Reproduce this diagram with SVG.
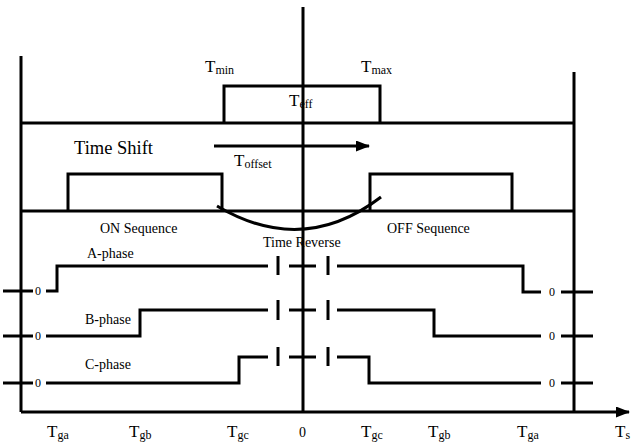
<svg xmlns="http://www.w3.org/2000/svg" width="637" height="443" viewBox="0 0 637 443" font-family="'Liberation Serif', 'Times New Roman', 'DejaVu Serif', serif">
<style>
.ln{fill:none;stroke:#000;stroke-width:3;stroke-linecap:butt;stroke-linejoin:miter}
text{font-family:'Liberation Serif','Times New Roman','DejaVu Serif',serif;fill:#000}
.big{font-size:17px}
.sub{font-size:12px}
.lbl{font-size:14px}
.z{font-size:12px}
</style>
<defs>
<marker id="ah2" markerWidth="14" markerHeight="11" refX="13" refY="5.5" orient="auto" markerUnits="userSpaceOnUse">
<path d="M0,0 L14,5.5 L0,11 Z" fill="#000"/>
</marker>
</defs>
<rect width="637" height="443" fill="#fff"/>
<g id="frame">
<line class="ln" x1="21" y1="56" x2="21" y2="412"/>
<line class="ln" x1="574" y1="72" x2="574" y2="412"/>
<line class="ln" x1="303" y1="7" x2="303" y2="412"/>
<line class="ln" x1="21" y1="123" x2="574" y2="123"/>
<line class="ln" x1="21" y1="211" x2="574" y2="211"/>
</g>
<g id="teff">
<polyline class="ln" points="224,123 224,86 380,86 380,123"/>
<text class="big" x="205" y="72">T<tspan class="sub" dy="2">min</tspan></text>
<text class="big" x="361" y="72">T<tspan class="sub" dy="2">max</tspan></text>
<text class="big" x="289" y="106">T<tspan class="sub" dy="2">eff</tspan></text>
</g>
<g id="timeshift">
<text x="74" y="154" font-size="18.5">Time Shift</text>
<text class="big" x="234" y="166">T<tspan class="sub" dy="2">offset</tspan></text>
</g>
<g id="on-box">
<polyline class="ln" points="68,211 68,174 222,174 222,211"/>
<text class="lbl" x="100" y="233">ON Sequence</text>
</g>
<g id="off-box">
<polyline class="ln" points="370,211 370,174 512,174 512,211"/>
<text class="lbl" x="387" y="233">OFF Sequence</text>
</g>
<g id="time-reverse">
<text class="lbl" x="263" y="247">Time Reverse</text>
</g>
<g id="a-phase">
<text class="lbl" x="87" y="258">A-phase</text>
<polyline class="ln" points="46,291 57,291 57,266 268,266"/>
<polyline class="ln" points="337,266 523,266 523,292 541,292"/>
<text class="z" x="35" y="295">0</text>
<text class="z" x="549" y="296">0</text>
</g>
<g id="b-phase">
<text class="lbl" x="85" y="324">B-phase</text>
<polyline class="ln" points="46,336 140,336 140,310 268,310"/>
<polyline class="ln" points="337,310 434,310 434,336 541,336"/>
<text class="z" x="35" y="340">0</text>
<text class="z" x="549" y="340">0</text>
</g>
<g id="c-phase">
<text class="lbl" x="85" y="369">C-phase</text>
<polyline class="ln" points="46,383 239,383 239,357 268,357"/>
<polyline class="ln" points="337,357 369,357 369,383 541,383"/>
<text class="z" x="35" y="387">0</text>
<text class="z" x="549" y="387">0</text>
</g>
<g id="connectors">
<line class="ln" x1="214" y1="146" x2="369" y2="146" marker-end="url(#ah2)"/>
<path class="ln" d="M217,206 Q303,257 381,197"/>
<line class="ln" x1="21" y1="412" x2="629" y2="412" marker-end="url(#ah2)"/>
<line class="ln" x1="3" y1="291" x2="33" y2="291"/>
<line class="ln" x1="3" y1="336" x2="33" y2="336"/>
<line class="ln" x1="3" y1="383" x2="33" y2="383"/>
<line class="ln" x1="561" y1="292" x2="593" y2="292"/>
<line class="ln" x1="561" y1="336" x2="593" y2="336"/>
<line class="ln" x1="561" y1="383" x2="593" y2="383"/>
<line class="ln" x1="289" y1="266" x2="316" y2="266"/>
<line class="ln" x1="289" y1="310" x2="316" y2="310"/>
<line class="ln" x1="289" y1="357" x2="316" y2="357"/>
<line class="ln" x1="278" y1="256" x2="278" y2="275"/>
<line class="ln" x1="278" y1="300" x2="278" y2="320"/>
<line class="ln" x1="278" y1="347" x2="278" y2="366"/>
<line class="ln" x1="328" y1="256" x2="328" y2="275"/>
<line class="ln" x1="328" y1="300" x2="328" y2="320"/>
<line class="ln" x1="328" y1="347" x2="328" y2="366"/>
</g>
<g id="axis-labels">
<text class="big" x="47" y="437">T<tspan class="sub" dy="2">ga</tspan></text>
<text class="big" x="129" y="437">T<tspan class="sub" dy="2">gb</tspan></text>
<text class="big" x="227" y="437">T<tspan class="sub" dy="2">gc</tspan></text>
<text class="lbl" x="299" y="437">0</text>
<text class="big" x="361" y="437">T<tspan class="sub" dy="2">gc</tspan></text>
<text class="big" x="428" y="437">T<tspan class="sub" dy="2">gb</tspan></text>
<text class="big" x="517" y="437">T<tspan class="sub" dy="2">ga</tspan></text>
<text class="big" x="615" y="437">T<tspan class="sub" dy="2">s</tspan></text>
</g>
</svg>
